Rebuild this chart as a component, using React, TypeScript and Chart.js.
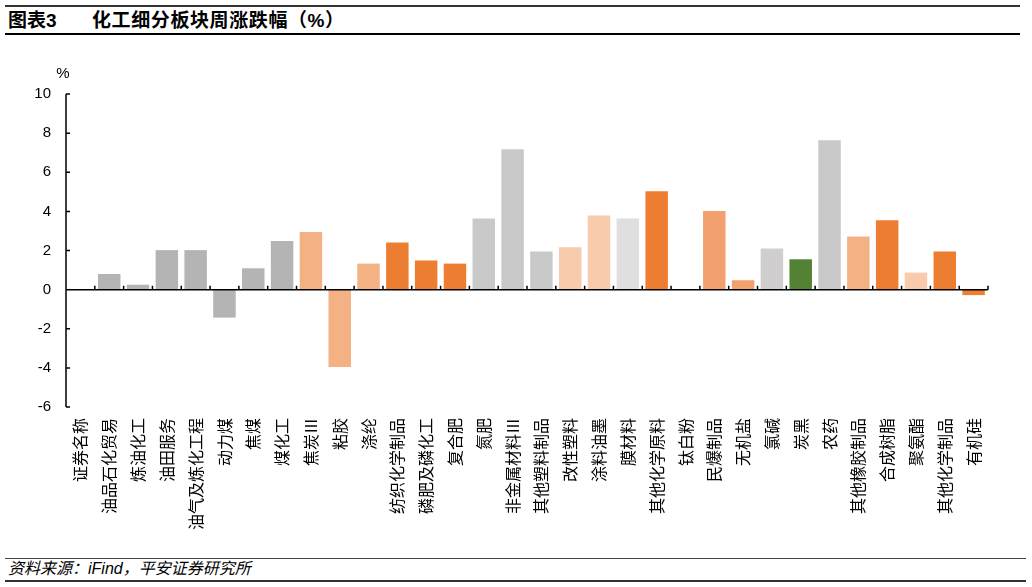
import React, { useEffect, useRef } from "react";
import { Chart, registerables } from "chart.js";

Chart.register(...registerables);

const categories = [
  "证券名称", "油品石化贸易", "炼油化工", "油田服务", "油气及炼化工程", "动力煤", "焦煤", "煤化工",
  "焦炭Ⅲ", "粘胶", "涤纶", "纺织化学制品", "磷肥及磷化工", "复合肥", "氮肥", "非金属材料Ⅲ",
  "其他塑料制品", "改性塑料", "涂料油墨", "膜材料", "其他化学原料", "钛白粉", "民爆制品", "无机盐",
  "氯碱", "炭黑", "农药", "其他橡胶制品", "合成树脂", "聚氨酯", "其他化学制品", "有机硅",
];

const values = [
  0, 0.8, 0.25, 2.02, 2.02, -1.43, 1.09, 2.48,
  2.94, -3.95, 1.33, 2.41, 1.49, 1.33, 3.64, 7.18,
  1.95, 2.17, 3.79, 3.64, 5.03, 0, 4.02, 0.48,
  2.1, 1.55, 7.64, 2.72, 3.55, 0.87, 1.95, -0.28,
];

const barColors = [
  "#b4b4b4", "#b4b4b4", "#b4b4b4", "#b4b4b4", "#b4b4b4", "#b4b4b4", "#b4b4b4", "#b4b4b4",
  "#f4b183", "#f4b183", "#f4b183", "#ed7d31", "#ed7d31", "#ed7d31", "#c9c9c9", "#c9c9c9",
  "#c9c9c9", "#f8cbad", "#f8cbad", "#dfdfdf", "#ed7d31", "#ed7d31", "#f2a16e", "#f2a16e",
  "#d0cece", "#548235", "#c9c9c9", "#f4b183", "#ed7d31", "#f8cbad", "#ed7d31", "#ed7d31",
];

const yMin = -6;
const yMax = 10;
const yStep = 2;
const yUnit = "%";

const titleLeft = "图表3";
const titleRight = "化工细分板块周涨跌幅（%）";
const sourceText = "资料来源：iFind，平安证券研究所";

const FONT = "'Liberation Sans', Arial, 'Noto Sans CJK SC', sans-serif";
const CJK_FONT = "'Noto Sans CJK SC', 'Liberation Sans', sans-serif";

const axisPlugin = {
  id: "axisDecor",
  afterDatasetsDraw(chart: any) {
    const { ctx, chartArea, scales } = chart;
    const xs = scales.x;
    const ys = scales.y;
    const left = chartArea.left;
    const y0 = ys.getPixelForValue(0);
    ctx.save();
    ctx.strokeStyle = "#000";
    ctx.lineWidth = 1.5;
    ctx.beginPath();
    ctx.moveTo(left, chartArea.top);
    ctx.lineTo(left, chartArea.bottom);
    for (let v = yMin; v <= yMax; v += yStep) {
      const py = ys.getPixelForValue(v);
      ctx.moveTo(left, py);
      ctx.lineTo(left + 4, py);
    }
    ctx.moveTo(left, y0);
    ctx.lineTo(chartArea.right, y0);
    const n = categories.length;
    for (let i = 1; i <= n; i++) {
      const px = xs.left + (i * xs.width) / n;
      ctx.moveTo(px, y0 - 4);
      ctx.lineTo(px, y0);
    }
    ctx.stroke();
    ctx.fillStyle = "#000";
    ctx.font = `15px ${FONT}`;
    ctx.textAlign = "center";
    ctx.textBaseline = "middle";
    ctx.fillText(yUnit, left - 3, chartArea.top - 20);
    ctx.restore();
  },
};

export default function App() {
  const ref = useRef<HTMLCanvasElement | null>(null);

  useEffect(() => {
    if (!ref.current) return;
    const chart = new Chart(ref.current, {
      type: "bar",
      data: {
        labels: categories,
        datasets: [
          {
            data: values,
            backgroundColor: barColors,
            borderWidth: 0,
            barPercentage: 0.78,
            categoryPercentage: 1,
          },
        ],
      },
      options: {
        responsive: false,
        animation: false,
        devicePixelRatio: 1,
        layout: { padding: { left: 0, right: 44, top: 54, bottom: 0 } },
        plugins: { legend: { display: false }, tooltip: { enabled: false } },
        scales: {
          x: {
            grid: { display: false, drawTicks: false },
            border: { display: false },
            ticks: {
              autoSkip: false,
              minRotation: 90,
              maxRotation: 90,
              padding: 11,
              color: "#000",
              font: { size: 16, family: CJK_FONT },
            },
            afterFit: (s: any) => {
              s.height = 143;
            },
          },
          y: {
            min: yMin,
            max: yMax,
            grid: { display: false, drawTicks: false },
            border: { display: false },
            ticks: {
              stepSize: yStep,
              padding: 15,
              color: "#000",
              font: { size: 15, family: FONT },
            },
            afterFit: (s: any) => {
              s.width = 66;
            },
          },
        },
      },
      plugins: [axisPlugin],
    });
    return () => chart.destroy();
  }, []);

  return (
    <div
      style={{
        position: "fixed",
        left: 0,
        top: 0,
        width: 1032,
        height: 587,
        background: "#fff",
        fontFamily: FONT,
        overflow: "hidden",
      }}
    >
      <div style={{ position: "absolute", left: 5, top: 5, width: 1015, height: 2, background: "#333" }} />
      <div
        style={{
          position: "absolute",
          left: 8,
          top: 10,
          fontSize: 19,
          fontWeight: "bold",
          lineHeight: "22px",
          color: "#000",
          whiteSpace: "nowrap",
        }}
      >
        {titleLeft}
      </div>
      <div
        style={{
          position: "absolute",
          left: 92,
          top: 10,
          fontSize: 19,
          fontWeight: "bold",
          lineHeight: "22px",
          letterSpacing: "0.6px",
          color: "#000",
          whiteSpace: "nowrap",
        }}
      >
        {titleRight}
      </div>
      <div style={{ position: "absolute", left: 5, top: 33, width: 1015, height: 1.5, background: "#000" }} />
      <canvas
        ref={ref}
        width={1032}
        height={510}
        style={{ position: "absolute", left: 0, top: 40, width: 1032, height: 510 }}
      />
      <div style={{ position: "absolute", left: 5, top: 557.5, width: 1021, height: 1, background: "#444" }} />
      <div
        style={{
          position: "absolute",
          left: 8,
          top: 559,
          fontSize: 16,
          fontStyle: "italic",
          lineHeight: "19px",
          color: "#000",
          whiteSpace: "nowrap",
        }}
      >
        {sourceText}
      </div>
      <div style={{ position: "absolute", left: 5, top: 579.5, width: 1021, height: 2, background: "#333" }} />
    </div>
  );
}
